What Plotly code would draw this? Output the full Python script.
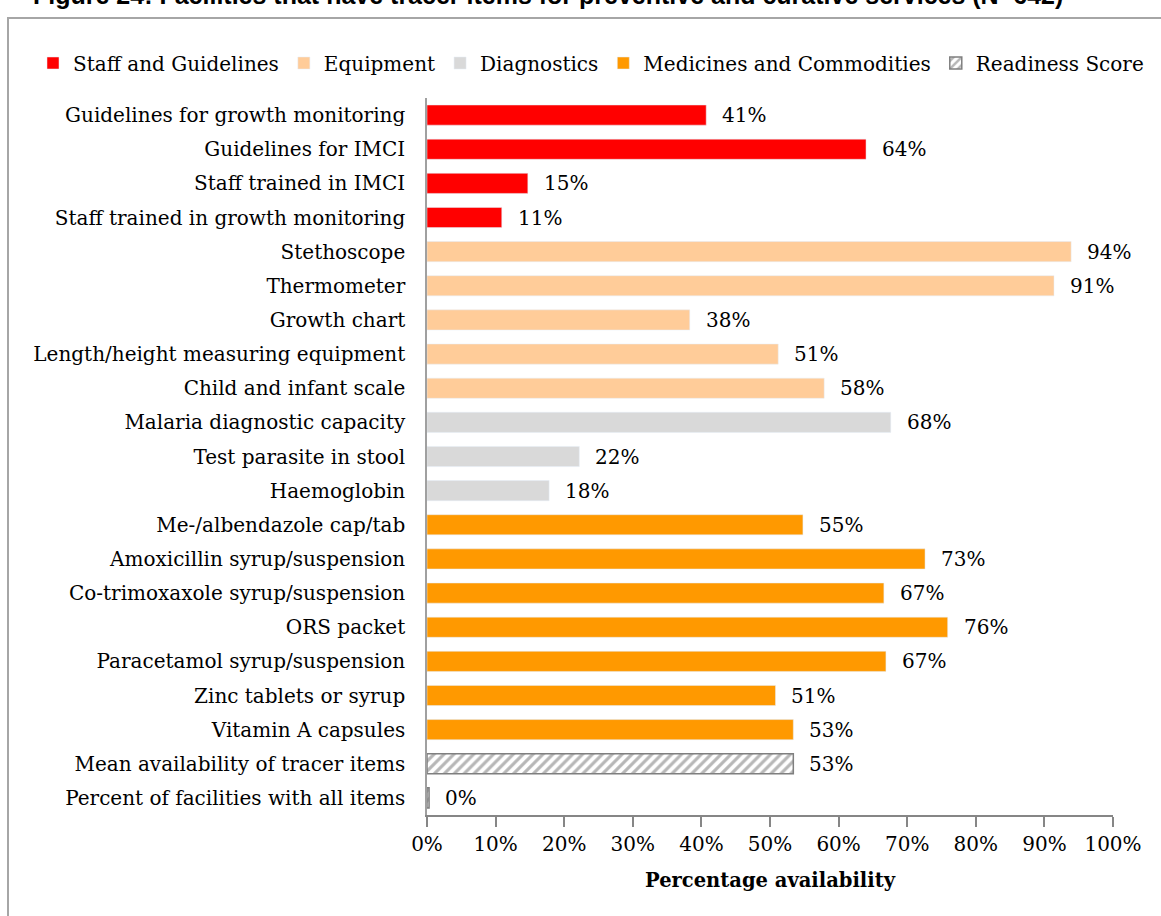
import plotly.graph_objects as go

# Tracer items, grouped by domain (top to bottom as listed)
staff_items = ["Guidelines for growth monitoring", "Guidelines for IMCI",
               "Staff trained in IMCI", "Staff trained in growth monitoring"]
staff_vals = [40.7, 64.0, 14.7, 10.9]

equip_items = ["Stethoscope", "Thermometer", "Growth chart",
               "Length/height measuring equipment", "Child and infant scale"]
equip_vals = [93.9, 91.4, 38.3, 51.2, 57.9]

diag_items = ["Malaria diagnostic capacity", "Test parasite in stool", "Haemoglobin"]
diag_vals = [67.6, 22.2, 17.8]

med_items = ["Me-/albendazole cap/tab", "Amoxicillin syrup/suspension",
             "Co-trimoxaxole syrup/suspension", "ORS packet",
             "Paracetamol syrup/suspension", "Zinc tablets or syrup",
             "Vitamin A capsules"]
med_vals = [54.8, 72.6, 66.6, 75.9, 66.9, 50.8, 53.4]

score_items = ["Mean availability of tracer items", "Percent of facilities with all items"]
score_vals = [53.4, 0.3]

x_ticks = [0, 10, 20, 30, 40, 50, 60, 70, 80, 90, 100]

FONT = "DejaVu Serif"
W, H = 1161, 916
ML, MR, MT, MB = 427, 48, 98, 101
PW, PH = W - ML - MR, H - MT - MB


def px_x(px):
    return (px - ML) / PW


def px_y(py):
    return (H - MB - py) / PH


groups = [
    ("Staff and Guidelines", staff_items, staff_vals, dict(color="#FF0000")),
    ("Equipment", equip_items, equip_vals, dict(color="#FFCC99")),
    ("Diagnostics", diag_items, diag_vals, dict(color="#D9D9D9")),
    ("Medicines and Commodities", med_items, med_vals, dict(color="#FF9900")),
    ("Readiness Score", score_items, score_vals,
     dict(color="white", line=dict(color="#7F7F7F", width=1.5),
          pattern=dict(shape="/", fgcolor="#6F6F6F", bgcolor="white",
                       size=7, solidity=0.45))),
]

fig = go.Figure()
annotations = []
for name, items, vals, marker in groups:
    fig.add_trace(go.Bar(
        x=vals, y=items, orientation="h", name=name, marker=marker,
        hovertemplate="%{y}: %{x:.0f}%<extra></extra>",
    ))
    for item, v in zip(items, vals):
        annotations.append(dict(
            x=v, y=item, xref="x", yref="y", text=f"{v:.0f}%",
            showarrow=False, xanchor="left", yanchor="middle", xshift=14,
            font=dict(family=FONT, size=20, color="black"),
        ))

# Axis title
annotations.append(dict(
    x=0.5, y=px_y(880), xref="paper", yref="paper",
    text="<b>Percentage availability</b>", showarrow=False,
    xanchor="center", yanchor="middle",
    font=dict(family=FONT, size=19.5, color="black"),
))

# Caption above the chart frame
annotations.append(dict(
    x=px_x(1065), y=px_y(-5), xref="paper", yref="paper",
    text="<b>Figure 24: Facilities that have tracer items for preventive and curative services (N=642)</b>",
    showarrow=False, xanchor="right", yanchor="middle",
    font=dict(family="Liberation Sans", size=25, color="black"),
))

fig.update_layout(
    width=W, height=H,
    margin=dict(l=ML, r=MR, t=MT, b=MB),
    paper_bgcolor="white", plot_bgcolor="white",
    font=dict(family=FONT, size=20, color="black"),
    barmode="overlay", bargap=0.41,
    showlegend=True,
    legend=dict(
        orientation="h", x=px_x(33), y=px_y(63),
        xanchor="left", yanchor="middle",
        font=dict(family=FONT, size=20, color="black"),
        traceorder="normal", bgcolor="rgba(0,0,0,0)",
    ),
    annotations=annotations,
    shapes=[dict(
        type="rect", xref="paper", yref="paper",
        x0=px_x(8), x1=px_x(1170), y0=px_y(930), y1=px_y(18),
        line=dict(color="#A6A6A6", width=2), fillcolor="rgba(0,0,0,0)",
        layer="below",
    )],
)

fig.update_xaxes(
    range=[0, 100], tickvals=x_ticks, ticktext=[f"{t}%" for t in x_ticks],
    showgrid=False, zeroline=False, showline=True, linecolor="#868686",
    linewidth=1.5, ticks="outside", ticklen=10, tickcolor="#868686",
    tickwidth=1.5, tickfont=dict(family=FONT, size=20, color="black"),
)
fig.update_yaxes(
    autorange="reversed", showgrid=False, zeroline=False,
    showline=True, linecolor="#A0A0A0", linewidth=1.5, ticks="",
    ticklabelstandoff=16,
    tickfont=dict(family=FONT, size=20, color="black"),
)

fig.write_html("out.html")
